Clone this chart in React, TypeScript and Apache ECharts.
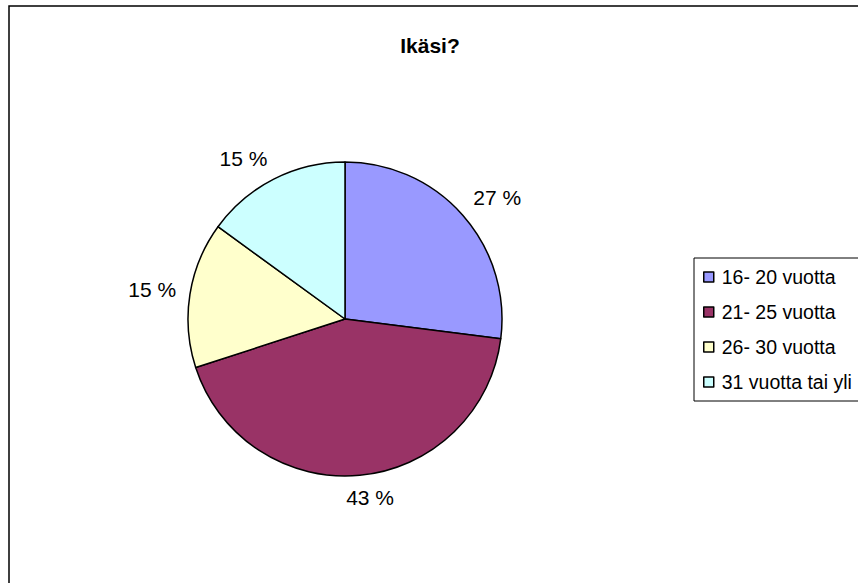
import React, { useEffect, useRef } from "react";
import * as echarts from "echarts";

const categories = ["16- 20 vuotta", "21- 25 vuotta", "26- 30 vuotta", "31 vuotta tai yli"];
const values = [27, 43, 15, 15];
const colors = ["#9999FF", "#993366", "#FFFFCC", "#CCFFFF"];
const titleText = "Ikäsi?";

const FONT = "Liberation Sans, Arial, sans-serif";

export default function App() {
  const ref = useRef<HTMLDivElement>(null);
  useEffect(() => {
    if (!ref.current) return;
    const chart = echarts.init(ref.current, undefined, { renderer: "svg" });
    const clamp = (v: number) => Math.max(-1, Math.min(1, v));
    chart.setOption({
      animation: false,
      backgroundColor: "#ffffff",
      textStyle: { fontFamily: FONT },
      title: {
        text: titleText,
        left: 430,
        top: 35,
        padding: 0,
        textAlign: "center",
        textStyle: { fontSize: 21, fontWeight: "bold", color: "#000", fontFamily: FONT },
      },
      graphic: [
        {
          type: "rect",
          shape: { x: 9, y: 6, width: 900, height: 620 },
          style: { fill: "none", stroke: "#000", lineWidth: 1.5 },
          silent: true,
          z: -10,
        },
      ],
      legend: {
        orient: "vertical",
        left: 694,
        top: 258,
        padding: [9, 40, 9, 9],
        itemGap: 15,
        itemWidth: 10,
        itemHeight: 10,
        icon: "rect",
        borderColor: "#000",
        borderWidth: 1,
        backgroundColor: "#fff",
        itemStyle: { borderColor: "#000", borderWidth: 1.5 },
        textStyle: { fontSize: 19.5, color: "#000", padding: [0, 0, 0, 3], fontFamily: FONT },
        data: categories,
      },
      series: [
        {
          type: "pie",
          center: [345, 319],
          radius: 157,
          startAngle: 90,
          clockwise: true,
          percentPrecision: 0,
          avoidLabelOverlap: false,
          itemStyle: { borderColor: "#000", borderWidth: 1.5 },
          label: {
            show: true,
            position: "outside",
            formatter: "{d} %",
            fontSize: 21,
            color: "#000",
            fontFamily: FONT,
          },
          labelLine: { show: true, length: 14, length2: 0, lineStyle: { opacity: 0, width: 0 } },
          labelLayout: (params: any) => {
            const pts = params.labelLinePoints;
            if (!pts) return {};
            const p0 = pts[0];
            const p1 = pts[1];
            let dx = p1[0] - p0[0];
            let dy = p1[1] - p0[1];
            const len = Math.sqrt(dx * dx + dy * dy) || 1;
            dx /= len;
            dy /= len;
            const w = params.labelRect.width;
            const h = params.labelRect.height * 0.4;
            const sx = clamp(dx * 4);
            const sy = clamp(dy * 2);
            return {
              x: p1[0] + (w / 2) * sx,
              y: p1[1] + h * sy,
              align: "center",
              verticalAlign: "middle",
            };
          },
          emphasis: { disabled: true },
          data: categories.map((name, i) => ({ name, value: values[i], itemStyle: { color: colors[i] } })),
        },
      ],
    });
    return () => chart.dispose();
  }, []);
  return <div ref={ref} style={{ position: "fixed", left: 0, top: 0, width: 858, height: 583 }} />;
}
